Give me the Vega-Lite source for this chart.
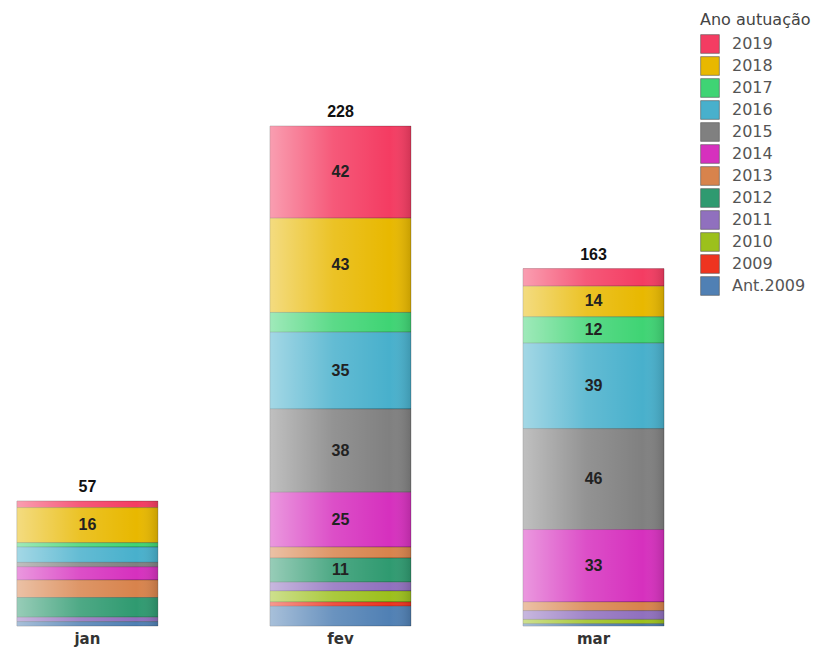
{
  "$schema": "https://vega.github.io/schema/vega-lite/v6.json",
  "autosize": "none",
  "width": 681,
  "height": 626,
  "padding": {"left": 0, "top": 0, "right": 136, "bottom": 24},
  "background": "white",
  "config": {
    "view": {"stroke": null},
    "font": "Liberation Sans"
  },
  "data": {
    "values": [
      {"mes": "jan", "ano": "2019", "ord": 11, "valor": 3},
      {"mes": "jan", "ano": "2018", "ord": 10, "valor": 16},
      {"mes": "jan", "ano": "2017", "ord": 9, "valor": 2},
      {"mes": "jan", "ano": "2016", "ord": 8, "valor": 7},
      {"mes": "jan", "ano": "2015", "ord": 7, "valor": 2},
      {"mes": "jan", "ano": "2014", "ord": 6, "valor": 6},
      {"mes": "jan", "ano": "2013", "ord": 5, "valor": 8},
      {"mes": "jan", "ano": "2012", "ord": 4, "valor": 9},
      {"mes": "jan", "ano": "2011", "ord": 3, "valor": 2},
      {"mes": "jan", "ano": "Ant.2009", "ord": 0, "valor": 2},
      {"mes": "fev", "ano": "2019", "ord": 11, "valor": 42},
      {"mes": "fev", "ano": "2018", "ord": 10, "valor": 43},
      {"mes": "fev", "ano": "2017", "ord": 9, "valor": 9},
      {"mes": "fev", "ano": "2016", "ord": 8, "valor": 35},
      {"mes": "fev", "ano": "2015", "ord": 7, "valor": 38},
      {"mes": "fev", "ano": "2014", "ord": 6, "valor": 25},
      {"mes": "fev", "ano": "2013", "ord": 5, "valor": 5},
      {"mes": "fev", "ano": "2012", "ord": 4, "valor": 11},
      {"mes": "fev", "ano": "2011", "ord": 3, "valor": 4},
      {"mes": "fev", "ano": "2010", "ord": 2, "valor": 5},
      {"mes": "fev", "ano": "2009", "ord": 1, "valor": 2},
      {"mes": "fev", "ano": "Ant.2009", "ord": 0, "valor": 9},
      {"mes": "mar", "ano": "2019", "ord": 11, "valor": 8},
      {"mes": "mar", "ano": "2018", "ord": 10, "valor": 14},
      {"mes": "mar", "ano": "2017", "ord": 9, "valor": 12},
      {"mes": "mar", "ano": "2016", "ord": 8, "valor": 39},
      {"mes": "mar", "ano": "2015", "ord": 7, "valor": 46},
      {"mes": "mar", "ano": "2014", "ord": 6, "valor": 33},
      {"mes": "mar", "ano": "2013", "ord": 5, "valor": 4},
      {"mes": "mar", "ano": "2011", "ord": 3, "valor": 4},
      {"mes": "mar", "ano": "2010", "ord": 2, "valor": 2},
      {"mes": "mar", "ano": "Ant.2009", "ord": 0, "valor": 1}
    ]
  },
  "transform": [
    {"stack": "valor", "groupby": ["mes"], "sort": [{"field": "ord", "order": "ascending"}], "as": ["v0", "v1"]},
    {"calculate": "(datum.v0 + datum.v1) / 2", "as": "meio"}
  ],
  "encoding": {
    "x": {
      "field": "mes",
      "type": "nominal",
      "sort": ["jan", "fev", "mar"],
      "scale": {"paddingInner": 0.443, "paddingOuter": 0.067},
      "axis": {
        "title": null,
        "domain": false,
        "ticks": false,
        "labelAngle": 0,
        "labelFont": "DejaVu Sans",
        "labelFontSize": 15,
        "labelFontWeight": "bold",
        "labelColor": "#333333",
        "labelPadding": 5
      }
    }
  },
  "layer": [
    {
      "mark": {"type": "bar", "stroke": "#000000", "strokeOpacity": 0.28, "strokeWidth": 0.8},
      "encoding": {
        "y": {"field": "v0", "type": "quantitative", "scale": {"domain": [0, 285.5], "nice": false, "zero": true}, "axis": null},
        "y2": {"field": "v1"},
        "color": {
          "field": "ano",
          "type": "nominal",
          "scale": {
            "domain": ["2019", "2018", "2017", "2016", "2015", "2014", "2013", "2012", "2011", "2010", "2009", "Ant.2009"],
            "range": ["#f43c62", "#e8b800", "#3fd474", "#48b0cc", "#808080", "#d630be", "#d8834c", "#2f9a70", "#9070be", "#9cc01c", "#ee3420", "#5080b4"]
          },
          "legend": {
            "title": "Ano autuação",
            "orient": "none",
            "legendX": 700,
            "legendY": 12,
            "padding": 0,
            "titleFont": "DejaVu Sans",
            "titleFontSize": 16,
            "titleFontWeight": "normal",
            "titleColor": "#444444",
            "titlePadding": 6,
            "titleAnchor": "start",
            "labelFont": "DejaVu Sans",
            "labelFontSize": 16,
            "labelColor": "#555555",
            "labelOffset": 12,
            "symbolType": "square",
            "symbolSize": 350,
            "symbolStrokeColor": "#555555",
            "symbolStrokeWidth": 0.6,
            "symbolOpacity": 1,
            "rowPadding": 0
          }
        }
      }
    },
    {
      "mark": {
        "type": "bar",
        "fill": {
          "gradient": "linear",
          "x1": 0, "y1": 0, "x2": 1, "y2": 0,
          "stops": [
            {"offset": 0, "color": "rgba(255,255,255,0.5)"},
            {"offset": 0.45, "color": "rgba(255,255,255,0.15)"},
            {"offset": 0.85, "color": "rgba(255,255,255,0)"},
            {"offset": 1, "color": "rgba(0,0,0,0.14)"}
          ]
        }
      },
      "encoding": {
        "y": {"field": "v0", "type": "quantitative"},
        "y2": {"field": "v1"}
      }
    },
    {
      "transform": [{"filter": "datum.valor >= 11"}],
      "mark": {"type": "text", "font": "Liberation Sans", "fontSize": 16, "fontWeight": "bold", "color": "#222222", "baseline": "middle"},
      "encoding": {
        "y": {"field": "meio", "type": "quantitative"},
        "text": {"field": "valor", "type": "quantitative"}
      }
    },
    {
      "transform": [{"aggregate": [{"op": "sum", "field": "valor", "as": "total"}], "groupby": ["mes"]}],
      "mark": {"type": "text", "font": "Liberation Sans", "fontSize": 16, "fontWeight": "bold", "color": "#111111", "baseline": "alphabetic", "dy": -9},
      "encoding": {
        "y": {"field": "total", "type": "quantitative"},
        "text": {"field": "total", "type": "quantitative"}
      }
    }
  ]
}
